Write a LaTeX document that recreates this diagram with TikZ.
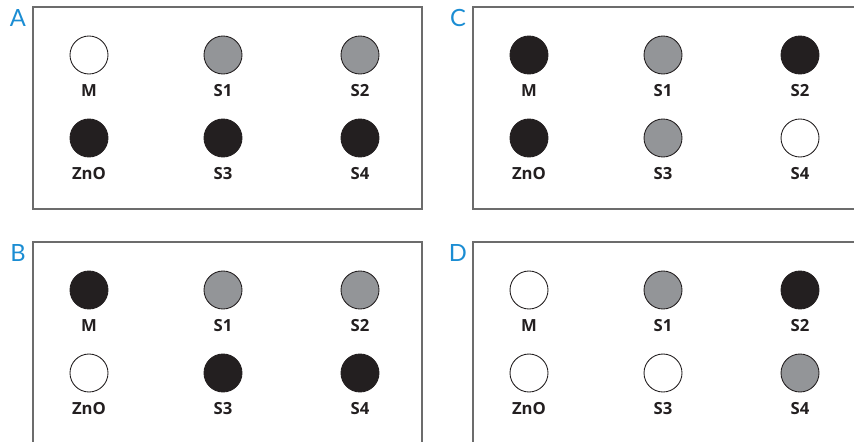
\documentclass[tikz,border=0pt]{standalone}
\usepackage{fontspec}
\setsansfont{Open Sans}
\newfontfamily\letterfont{Lato}
\usepackage{tikz}
\usetikzlibrary{positioning}

\definecolor{spotblack}{HTML}{231F20}
\definecolor{spotgray}{HTML}{939598}
\definecolor{letterblue}{HTML}{1B8DD3}

\begin{document}
\begin{tikzpicture}[x=0.02cm,y=-0.02cm,
  spot/.style={circle,draw=spotblack,line width=0.5pt,minimum size=0.76cm,inner sep=0pt},
  tag/.style={font=\sffamily\bfseries\fontsize{9.5}{11}\selectfont,text=spotblack,inner sep=0pt},
  panel/.style={draw=gray!85!black,line width=0.6pt},
  letter/.style={font=\letterfont\fontsize{13.5}{15}\selectfont,text=letterblue,inner sep=0pt}]
\clip (0,0) rectangle (854,442);
% frames
\draw[panel] (33,7) rectangle (422,209);
\draw[panel] (473,7) rectangle (880,209);
\draw[panel] (33,242) rectangle (422,470);
\draw[panel] (473,242) rectangle (880,470);
\node[letter] (lA) at (18,18) {A};
\node[letter] (lC) at (458,18) {C};
\node[letter] (lB) at (18,253) {B};
\node[letter] (lD) at (458,253) {D};
% spots of each panel
\foreach \p/\dx/\dy/\fm/\fa/\fb/\fz/\fc/\fd in {
    A/0/0/white/spotgray/spotgray/spotblack/spotblack/spotblack,
    B/0/235/spotblack/spotgray/spotgray/white/spotblack/spotblack,
    C/440/0/spotblack/spotgray/spotblack/spotblack/spotgray/white,
    D/440/235/white/spotgray/spotblack/white/white/spotgray}{
  \node[spot,fill=\fm] (\p-M) at (89+\dx,55+\dy) {};
  \node[spot,fill=\fa] (\p-S1) at (223+\dx,55+\dy) {};
  \node[spot,fill=\fb] (\p-S2) at (360+\dx,55+\dy) {};
  \node[spot,fill=\fz] (\p-ZnO) at (89+\dx,138+\dy) {};
  \node[spot,fill=\fc] (\p-S3) at (223+\dx,138+\dy) {};
  \node[spot,fill=\fd] (\p-S4) at (360+\dx,138+\dy) {};
  \node[tag,below=0.19cm of \p-M] (\p-Mt) {M};
  \node[tag,below=0.19cm of \p-S1] (\p-S1t) {S1};
  \node[tag,below=0.19cm of \p-S2] (\p-S2t) {S2};
  \node[tag,below=0.19cm of \p-ZnO] (\p-ZnOt) {ZnO};
  \node[tag,below=0.19cm of \p-S3] (\p-S3t) {S3};
  \node[tag,below=0.19cm of \p-S4] (\p-S4t) {S4};
}
\end{tikzpicture}
\end{document}
